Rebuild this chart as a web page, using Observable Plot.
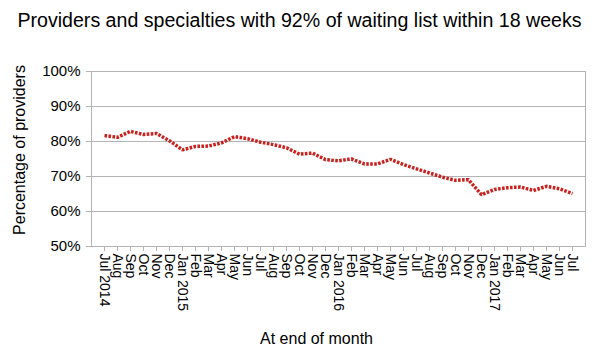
<!DOCTYPE html>
<html><head><meta charset="utf-8">
<script src="https://cdn.jsdelivr.net/npm/d3@7"></script>
<script src="https://cdn.jsdelivr.net/npm/@observablehq/plot@0.6"></script>
<style>
body{margin:0;background:#fff;font-family:"Liberation Sans",Arial,sans-serif;}
#title{height:40px;width:599px;text-align:center;font-size:19.6px;line-height:40px;color:#000;white-space:nowrap;}
#chart svg{display:block;}
</style></head><body>
<div id="title">Providers and specialties with 92% of waiting list within 18 weeks</div>
<div id="chart"></div>
<script>
const months = ["2014-07","2014-08","2014-09","2014-10","2014-11","2014-12",
  "2015-01","2015-02","2015-03","2015-04","2015-05","2015-06","2015-07","2015-08","2015-09","2015-10","2015-11","2015-12",
  "2016-01","2016-02","2016-03","2016-04","2016-05","2016-06","2016-07","2016-08","2016-09","2016-10","2016-11","2016-12",
  "2017-01","2017-02","2017-03","2017-04","2017-05","2017-06","2017-07"];
const tickLabels = ["Jul 2014","Aug","Sep","Oct","Nov","Dec",
  "Jan 2015","Feb","Mar","Apr","May","Jun","Jul","Aug","Sep","Oct","Nov","Dec",
  "Jan 2016","Feb","Mar","Apr","May","Jun","Jul","Aug","Sep","Oct","Nov","Dec",
  "Jan 2017","Feb","Mar","Apr","May","Jun","Jul"];
const values = [81.7,81.2,82.9,82.0,82.3,80.2,
  77.6,78.6,78.7,79.6,81.4,80.8,79.8,79.1,78.2,76.4,76.7,74.8,
  74.5,75.0,73.6,73.6,74.9,73.4,72.2,71.0,69.8,68.9,69.1,64.8,
  66.3,66.8,67.0,66.0,67.2,66.5,65.1];
const yTicks = [50,60,70,80,90,100];
const yLabel = "Percentage of providers";
const xLabel = "At end of month";

const data = months.map((m, i) => ({m, v: values[i]}));
const grey = "#b3b3b3";
const plot = Plot.plot({
  width: 599, height: 315,
  marginTop: 31, marginBottom: 109, marginLeft: 91, marginRight: 14,
  style: {fontFamily: '"Liberation Sans", Arial, sans-serif', fontSize: "14px", color: "#000", background: "#fff", overflow: "visible"},
  x: {type: "point", domain: months, padding: 0},
  y: {domain: [50, 100]},
  marks: [
    Plot.gridY(yTicks, {stroke: grey, strokeOpacity: 1}),
    Plot.frame({stroke: grey}),
    Plot.axisY(yTicks, {tickSize: 5, tickPadding: 6, tickFormat: d => d + "%", stroke: grey, fill: "#000", fontSize: 15, label: null}),
    Plot.axisX(months, {tickSize: 5, tickPadding: 2, tickRotate: 90, tickFormat: d => tickLabels[months.indexOf(d)], stroke: grey, fill: "#000", fontSize: 14, label: null}),
    Plot.line(data, {x: "m", y: "v", stroke: "#c9211e", strokeWidth: 3.5, strokeDasharray: "2.6,1.4", strokeLinecap: "butt", strokeLinejoin: "miter"}),
    Plot.text([yLabel], {frameAnchor: "left", textAnchor: "middle", dx: -72, dy: -9, rotate: -90, fontSize: 16, fill: "#000"}),
    Plot.text([xLabel], {frameAnchor: "bottom", dx: -22, dy: 97, fontSize: 16, fill: "#000"})
  ]
});
document.getElementById("chart").appendChild(plot);
</script>
</body></html>
